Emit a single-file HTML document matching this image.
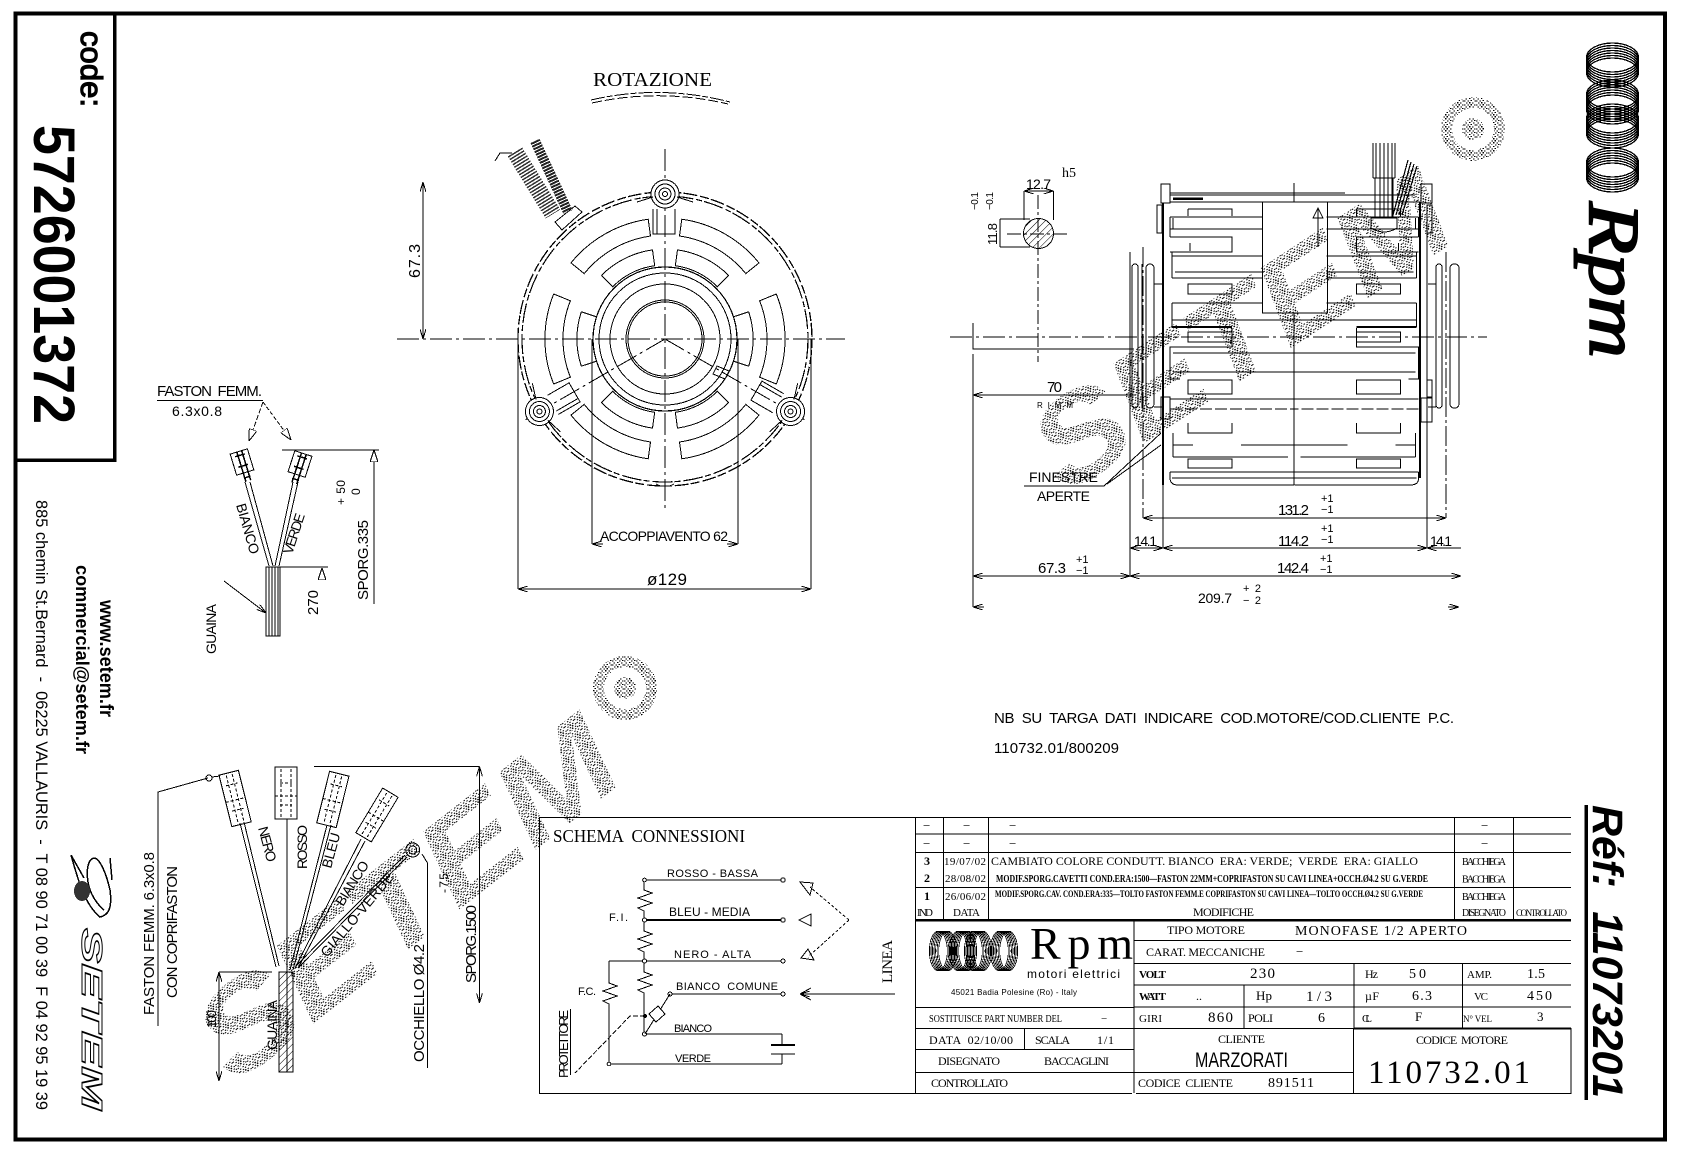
<!DOCTYPE html>
<html lang="it"><head><meta charset="utf-8"><title>Motore 110732.01</title>
<style>
html,body{margin:0;padding:0;background:#fff}
svg{display:block}
text{fill:#000;stroke:none;white-space:pre}
.s{font-family:"Liberation Sans",sans-serif}
.b{font-family:"Liberation Sans",sans-serif;font-weight:bold}
.m{font-family:"Liberation Serif",serif}
.c{font-family:"Liberation Mono",monospace}
</style></head><body>
<svg xmlns="http://www.w3.org/2000/svg" width="1683" height="1157" viewBox="0 0 1683 1157" fill="none" stroke="#000" stroke-width="1" shape-rendering="crispEdges">
<defs>
<marker id="a" viewBox="0 0 10 6" refX="10" refY="3" markerWidth="10" markerHeight="6" markerUnits="userSpaceOnUse" orient="auto-start-reverse"><path d="M0 0L10 3L0 6" fill="none" stroke="#000"/></marker>
<marker id="t" viewBox="0 0 12 8" refX="12" refY="4" markerWidth="12" markerHeight="8" markerUnits="userSpaceOnUse" orient="auto-start-reverse"><path d="M0 0L12 4L0 8Z" fill="#fff" stroke="#000"/></marker>
<pattern id="d" width="12" height="12" patternUnits="userSpaceOnUse"><path stroke="#000" stroke-width="1.3" d="M0 1h1.3M3 0h1.3M7 1h1.3M10 .5h1.3M1.500 3h1.3M5 2.500h1.3M9 3h1.3M0 5h1.3M3.500 5h1.3M6.500 4.500h1.3M10.500 5h1.3M2 7h1.3M5 6.800h1.3M8 7h1.3M0 9h1.3M3.500 9h1.3M6.500 8.800h1.3M10 9h1.3M1.500 11h1.3M5 10.800h1.3M8.500 11h1.3"/></pattern>
<pattern id="h" width="5" height="5" patternUnits="userSpaceOnUse" patternTransform="rotate(45)"><path d="M0 0V5" stroke="#000" stroke-width="1.4"/></pattern>
<g id="c" stroke-width="1.3"><ellipse rx="26" ry="14.5" cy="-7.500"/><ellipse rx="26" ry="14.5" cy="-5"/><ellipse rx="26" ry="14.5" cy="-2.500"/><ellipse rx="26" ry="14.5" cy="0"/><ellipse rx="26" ry="14.5" cy="2.500"/><ellipse rx="26" ry="14.5" cy="5"/><ellipse rx="26" ry="14.5" cy="7.500"/></g>
<path id="o1" d="M16.800-119.800A121 121 0 0 1 94-76.100L80.800-65.400A104 104 0 0 0 14.500-103Z"/>
<path id="o2" d="M12.500-89.100A90 90 0 0 1 63.600-63.600L52.300-52.300A74 74 0 0 0 10.300-73.300Z"/>
<path id="o3" d="M111.300-45A120 120 0 0 1 111.300 45L94.600 38.200A102 102 0 0 0 94.600-38.200Z"/>
<path id="o4" d="M83.700-27.200A88 88 0 0 1 83.700 27.200L68.500 22.200A72 72 0 0 0 68.500-22.200Z"/>
<g id="lug"><circle cy="-145" r="14" fill="#fff"/><circle cy="-145" r="10"/><circle cy="-145" r="6"/><circle cy="-145" r="2.500"/><path d="M-12-130V-105H10V-130M-8-130V-105M-12-142L-28-137M12-142L28-137"/></g>
<g id="half">
<path d="M1170 217H1262M1170 229H1262M1170 217V237M1173 218V229M1170 237H1232V252H1170M1188 209H1232V216M1188 209V216M1190 243V251M1172 256H1262M1175 272H1262M1172 278H1262M1172 252V278"/>
<rect x="1188" y="284" width="44" height="10"/>
<path d="M1172 303H1262M1172 320H1294M1172 303V327"/>
<path d="M1172 327H1232" stroke-width="2"/>
<rect x="1188" y="332" width="44" height="10"/>
<path d="M1232 328V347H1170V379H1180M1173 353H1294M1173 372H1294M1170 399H1294"/>
<rect x="1188" y="380" width="44" height="14"/>
<path d="M1170 409H1294" stroke-dasharray="12 3"/>
<path d="M1188 423V433H1232V423M1173 433V457M1173 445H1193M1241 445H1294M1173 457H1288"/>
<rect x="1188" y="459" width="44" height="9"/>
<path d="M1170 472H1294M1172 478H1294M1170 472V478Q1170 485 1178 485H1294"/>
</g>
</defs>

<!-- watermarks -->
<g stroke="none">
<text class="b" font-size="122" font-style="italic" transform="translate(235,1085) rotate(-38)" textLength="500" lengthAdjust="spacingAndGlyphs" style="fill:url(#d)">SETEM</text>
<text class="b" font-size="122" font-style="italic" transform="translate(1065,495) rotate(-33)" textLength="473" lengthAdjust="spacingAndGlyphs" style="fill:url(#d)">SETEM</text>
<path fill="url(#d)" fill-rule="evenodd" d="M1473 97a32 32 0 1 0 .1 0ZM1473 108a21 21 0 1 1-.1 0ZM625 656a32 32 0 1 0 .1 0ZM625 667a21 21 0 1 1-.1 0ZM1473 118a11 11 0 1 0 .1 0ZM625 677a11 11 0 1 0 .1 0Z"/>
</g>

<!-- frame -->
<rect x="15.500" y="13.500" width="1649.500" height="1126" stroke-width="4"/>
<path d="M114.500 14V460H16" stroke-width="3.500"/>

<!-- left strip text -->
<text class="s" font-size="31" transform="translate(81,31) rotate(90)" textLength="76" stroke-width="1.200" style="stroke:#000">code:</text>
<text class="b" font-size="58" transform="translate(34,125) rotate(90)" textLength="299" lengthAdjust="spacingAndGlyphs">5726001372</text>
<text class="b" font-size="19" transform="translate(100,600) rotate(90)" textLength="117" lengthAdjust="spacingAndGlyphs">www.setem.fr</text>
<text class="b" font-size="18" transform="translate(76,565) rotate(90)" textLength="189" lengthAdjust="spacingAndGlyphs">commercial@setem.fr</text>
<text class="s" font-size="17" transform="translate(36,500) rotate(90)" textLength="610" lengthAdjust="spacingAndGlyphs">885 chemin St.Bernard  -  06225 VALLAURIS  -  T 08 90 71 00 39  F 04 92 95 19 39</text>
<g>
<path d="M71 855C78 880 85 905 100 917C110 915 112 905 110 890C106 872 100 860 95 858C88 858 86 870 88 882C90 895 98 905 104 910" stroke-width="1.5"/>
<ellipse cx="82" cy="891" rx="8" ry="10" fill="#333" stroke="none"/>
<path d="M71 855L84 878M110 858L112 880" stroke-width="1.5"/>
</g>
<text class="b" font-size="29" font-style="italic" transform="translate(82,928) rotate(90)" textLength="182" lengthAdjust="spacingAndGlyphs" style="fill:none;stroke:#000;stroke-width:1">SETEM</text>

<!-- right strip -->
<use href="#c" x="1612.500" y="65"/><use href="#c" x="1612.500" y="102"/><use href="#c" x="1612.500" y="126"/><use href="#c" x="1612.500" y="170"/>
<text class="m" font-size="72" font-style="italic" transform="translate(1590,202) rotate(90)" textLength="156" lengthAdjust="spacingAndGlyphs" style="stroke:#000;stroke-width:2">Rpm</text>
<path d="M1586 805V1100" stroke-width="3.500"/>
<text class="b" font-size="43" font-style="italic" transform="translate(1593,805) rotate(90)" textLength="293" lengthAdjust="spacing">Réf:  11073201</text>

<!-- top-left faston -->
<g>
<text class="s" font-size="15" x="157" y="396" textLength="105">FASTON  FEMM.</text>
<text class="s" font-size="14" x="172" y="416" textLength="50">6.3x0.8</text>
<path d="M157 400.500H263"/>
<path d="M263 402L249 441" stroke-dasharray="5 2" marker-end="url(#t)"/>
<path d="M263 402L291 440" stroke-dasharray="4 2" marker-end="url(#t)"/>
<g transform="translate(242,462) rotate(-17)"><rect x="-9" y="-11" width="18" height="22"/><path d="M-2-11V20M3-11V20M-5-7H5M-5 4H5M-3 16H4" stroke-width="1.500"/></g>
<g transform="translate(300,464) rotate(18)"><rect x="-9" y="-11" width="18" height="22"/><path d="M-2-11V20M3-11V20M-5-7H5M-5 4H5M-3 16H4" stroke-width="1.500"/></g>
<path d="M245 482L269 566M250 482L273 566M293 482L275 566M298 482L279 566"/>
<rect x="266" y="567" width="14" height="69"/><path d="M269 567V636M272 567V636M275 567V636M278 567V636" stroke-width="1.300"/>
<text class="s" font-size="14" transform="translate(236,505) rotate(74)" textLength="52">BIANCO</text>
<text class="s" font-size="14" transform="translate(292,555) rotate(-72)" textLength="42">VERDE</text>
<path d="M282 450H379M374 450V604M280 567H328" />
<path d="M374 604V450" marker-end="url(#t)"/>
<path d="M322 568V578" marker-start="url(#t)"/>
<text class="s" font-size="15" transform="translate(368,600) rotate(-90)" textLength="80">SPORG.335</text>
<text class="s" font-size="12" transform="translate(345,505) rotate(-90)" textLength="25">+ 50</text>
<text class="s" font-size="12" transform="translate(360,495) rotate(-90)">0</text>
<text class="s" font-size="15" transform="translate(318,615) rotate(-90)" textLength="25">270</text>
<path d="M224 581L266 613" marker-end="url(#a)"/>
<text class="s" font-size="14" transform="translate(216,654) rotate(-90)" textLength="50">GUAINA</text>
</g>

<!-- front view -->
<g>
<text class="m" font-size="20" x="593" y="86" textLength="119" lengthAdjust="spacingAndGlyphs">ROTAZIONE</text>
<path d="M591 100Q660 84 730 102" stroke-dasharray="14 2 6 2"/><path d="M592 103Q660 88 728 104" stroke-dasharray="10 3"/>
<path d="M397 339H845M665 149V508" stroke-dasharray="22 4 3 4"/>
<path d="M665 339L525 420M665 339L805 420" stroke-dasharray="22 4 3 4"/>
<circle cx="665" cy="339" r="147" stroke-width="1.300" stroke-dasharray="9 2 14 3"/>
<circle cx="665" cy="339" r="143" stroke-width="1.200" stroke-dasharray="20 3 6 2"/>
<circle cx="665" cy="339" r="37"/><circle cx="665" cy="339" r="39"/><circle cx="665" cy="339" r="55"/><circle cx="665" cy="339" r="66"/><circle cx="665" cy="339" r="72" stroke-width="1.200"/>
<g transform="translate(665,339)">
<use href="#o1"/><use href="#o1" transform="scale(-1,1)"/><use href="#o1" transform="rotate(180)"/><use href="#o1" transform="rotate(180) scale(-1,1)"/>
<use href="#o2"/><use href="#o2" transform="scale(-1,1)"/><use href="#o2" transform="rotate(180)"/><use href="#o2" transform="rotate(180) scale(-1,1)"/>
<use href="#o3"/><use href="#o3" transform="scale(-1,1)"/><use href="#o4"/><use href="#o4" transform="scale(-1,1)"/>
<use href="#lug"/><use href="#lug" transform="rotate(120)"/><use href="#lug" transform="rotate(-120)"/>
<path d="M-9 145L-5 147H5L9 145"/>
<path d="M52 27L64 32L60 40L48 35Z"/>
</g>
<path d="M555 222L575 206L582 212L562 230Z" fill="#fff"/>
<path d="M535 141L568 212" stroke-width="10" stroke-dasharray="2 1" stroke="#222"/>
<path d="M515 152L553 214" stroke-width="17" stroke-dasharray="1.500 1.500" stroke="#333"/>
<path d="M495 161L500 153L512 153" />
<path d="M423 182V339" marker-start="url(#a)" marker-end="url(#a)"/>
<text class="s" font-size="16" transform="translate(420,278) rotate(-90)" textLength="34">67.3</text>
<path d="M592 339V544M738 339V544"/>
<path d="M592 544H603M727 544H738"/>
<path d="M603 544H592" marker-end="url(#a)"/><path d="M727 544H738" marker-end="url(#a)"/>
<text class="s" font-size="14" x="600" y="541" textLength="128">ACCOPPIAVENTO 62</text>
<path d="M518 339V589M811 339V589"/><path d="M518 589H811" marker-start="url(#a)" marker-end="url(#a)"/>
<text class="s" font-size="17" x="647" y="585" textLength="40">ø129</text>
</g>

<!-- shaft section -->
<g>
<text class="m" font-size="14" x="1062" y="177" textLength="14">h5</text>
<text class="s" font-size="14" x="1026" y="189" textLength="25">12.7</text>
<path d="M1024 191V220M1053.500 191V220M1000 219H1030M1000 247H1030M1000 219V247"/>
<path d="M1024 191H1053.500" marker-start="url(#a)" marker-end="url(#a)"/>
<circle cx="1038.500" cy="233.500" r="15" fill="url(#h)"/>
<path d="M1038 195V362M1007 234H1068" stroke-dasharray="14 3 3 3"/>
<text class="s" font-size="13" transform="translate(997,245) rotate(-90)" textLength="22">11.8</text>
<text class="s" font-size="10" transform="translate(978,210) rotate(-90)" textLength="18">−0.1</text>
<text class="s" font-size="10" transform="translate(993,210) rotate(-90)" textLength="18">−0.1</text>
</g>

<!-- side view -->
<g>
<path d="M950 337H1487" stroke-dasharray="22 4 3 4"/>
<use href="#half"/><use href="#half" transform="matrix(-1 0 0 1 2588.600 0)"/>
<path d="M1170 193H1345M1170 195H1415M1170 202H1262.500M1327.500 202H1420M1173 198H1203" />
<path d="M1173 199H1203" stroke-width="2"/>
<rect x="1262.500" y="202" width="65" height="111"/>
<path d="M1294 183V202M1294 313V485"/>
<path d="M1318 247V208"/><path d="M1318 208L1313 218H1323Z"/>
<path d="M1163 203V485M1420 202V478" stroke-width="2.200"/>
<path d="M1163 485V548M1427 205V548M1130 252V577" />
<path d="M1143 247V518M1446 252V518" stroke-dasharray="20 3 3 3"/>
<rect x="1161" y="184" width="9" height="19"/><rect x="1161" y="397" width="9" height="22"/>
<rect x="1157" y="205" width="5" height="28"/>
<rect x="1421" y="184" width="11" height="19"/><rect x="1421" y="398" width="11" height="24"/>
<rect x="1427" y="205" width="5" height="28"/><rect x="1427" y="380" width="5" height="17"/>
<rect x="1132" y="264" width="6" height="144" rx="3"/><rect x="1146" y="264" width="8" height="144" rx="4"/>
<rect x="1436" y="264" width="6" height="144" rx="3"/><rect x="1450" y="264" width="9" height="144" rx="4"/>
<path d="M1154 284H1163M1154 407H1163M1428 284H1436M1428 407H1436M1142 264V408"/>
<path d="M1373 143V178M1376 143V178M1380 143V218M1384 143V218M1388 143V218M1392 143V218M1395 143V178M1373 178H1395M1375 178V218M1393 178V218" stroke-width="1.200"/>
<path d="M1371 218V228Q1384 236 1397 228V218Z"/>
<path d="M1393 215L1408 160M1396 215L1411 162M1399 215L1414 164M1402 215L1417 166" stroke-width="1.200"/>
<path d="M973 323V349H1134M973 354V607"/>
<path d="M973 395H1136" marker-start="url(#a)"/>
<text class="s" font-size="15" x="1047" y="392" textLength="15">70</text>
<text class="s" font-size="8" x="1037" y="408" textLength="36">RIMM</text>
<text class="s" font-size="14" x="1029" y="482" textLength="69">FINESTRE</text>
<text class="s" font-size="14" x="1037" y="501" textLength="53">APERTE</text>
<path d="M1024 486H1104L1161 433M1107 484L1161 445" />
<path d="M1143 518H1446" marker-start="url(#a)" marker-end="url(#a)"/>
<text class="s" font-size="15" x="1278" y="515" textLength="31">131.2</text>
<text class="s" font-size="11" x="1321" y="502">+1</text><text class="s" font-size="11" x="1321" y="513">−1</text>
<path d="M1130 548H1163" marker-start="url(#a)" marker-end="url(#a)"/><path d="M1163 548H1427" marker-start="url(#a)" marker-end="url(#a)"/><path d="M1427 548H1461" marker-start="url(#a)"/>
<text class="s" font-size="15" x="1278" y="546" textLength="31">114.2</text>
<text class="s" font-size="11" x="1321" y="532">+1</text><text class="s" font-size="11" x="1321" y="543">−1</text>
<text class="s" font-size="14" x="1134" y="546" textLength="23">14.1</text>
<text class="s" font-size="14" x="1430" y="546" textLength="22">14.1</text>
<path d="M973 576H1130" marker-start="url(#a)" marker-end="url(#a)"/><path d="M1130 576H1461" marker-start="url(#a)" marker-end="url(#a)"/>
<text class="s" font-size="15" x="1038" y="573" textLength="28">67.3</text>
<text class="s" font-size="11" x="1076" y="563">+1</text><text class="s" font-size="11" x="1076" y="574">−1</text>
<text class="s" font-size="15" x="1277" y="573" textLength="32">142.4</text>
<text class="s" font-size="11" x="1320" y="562">+1</text><text class="s" font-size="11" x="1320" y="573">−1</text>
<text class="s" font-size="14" x="1198" y="603" textLength="34">209.7</text>
<text class="s" font-size="11" x="1243" y="592" textLength="18">+ 2</text><text class="s" font-size="11" x="1243" y="604" textLength="18">− 2</text>
<path d="M984 607H973" marker-end="url(#a)"/><path d="M1448 607H1459" marker-end="url(#a)"/>
<text class="s" font-size="15" x="994" y="723" textLength="460">NB  SU  TARGA  DATI  INDICARE  COD.MOTORE/COD.CLIENTE  P.C.</text>
<text class="s" font-size="15" x="994" y="753" textLength="125">110732.01/800209</text>
</g>

<!-- bottom-left wiring -->
<g>
<rect x="279" y="972" width="14" height="100" fill="url(#h)"/>
<path d="M287 972V1072"/>
<path d="M219 972H272"/><path d="M219 972V1081" marker-start="url(#a)" marker-end="url(#a)"/>
<text class="s" font-size="13" transform="translate(216,1028) rotate(-90)" textLength="18">100</text>
<text class="s" font-size="14" transform="translate(277,1050) rotate(-90)" textLength="50">GUAINA</text>
<text class="s" font-size="15" transform="translate(154,1015) rotate(-90)" textLength="163">FASTON FEMM. 6.3x0.8</text>
<path d="M158 1026V792L208 778" /><circle cx="209" cy="778" r="3"/><path d="M212 777L220 776"/>
<text class="s" font-size="15" transform="translate(177,998) rotate(-90)" textLength="132">CON COPRIFASTON</text>
<g transform="translate(235,798) rotate(-14)"><rect x="-10" y="-26" width="20" height="53"/><path d="M-10 2H10M-3-24V25M3-24V25M-6-14H6M-6 12H6" stroke-dasharray="3 2"/></g>
<path d="M240 823L276 967M244 822L279 966"/>
<g transform="translate(286,793)"><rect x="-11" y="-26" width="22" height="52"/><path d="M-11 3H11M-5-24V24M5-24V24M-6-10H6M-6 12H6" stroke-dasharray="3 2"/></g>
<path d="M287 819V972"/>
<g transform="translate(333,799) rotate(14)"><rect x="-10" y="-26" width="20" height="53"/><path d="M-10 2H10M-3-24V25M3-24V25M-6-14H6M-6 12H6" stroke-dasharray="3 2"/></g>
<path d="M327 825L290 970M331 825L293 970"/>
<g transform="translate(377,815) rotate(31)"><rect x="-9" y="-26" width="18" height="52"/><path d="M-9 2H9M-3-24V25M3-24V25M-6-14H6M-6 12H6" stroke-dasharray="3 2"/></g>
<path d="M361 839L295 968M365 841L298 968"/>
<circle cx="412.700" cy="850" r="7"/><circle cx="412.700" cy="850" r="4"/>
<path d="M407 857L298 968M405 855L296 966"/>
<text class="s" font-size="14" transform="translate(258,828) rotate(75)" textLength="36">NERO</text>
<text class="s" font-size="14" transform="translate(307,869) rotate(-90)" textLength="44">ROSSO</text>
<text class="s" font-size="14" transform="translate(331,869) rotate(-75)" textLength="36">BLEU</text>
<text class="s" font-size="14" transform="translate(343,907) rotate(-58)" textLength="50">BIANCO</text>
<text class="s" font-size="14" transform="translate(327,958) rotate(-50)" textLength="105">GIALLO-VERDE</text>
<path d="M314 766.500H479.500"/><path d="M479.500 766.500V1003" marker-start="url(#a)" marker-end="url(#a)"/>
<text class="s" font-size="15" transform="translate(476,983) rotate(-90)" textLength="78">SPORG.1500</text>
<text class="s" font-size="12" transform="translate(448,893) rotate(-90)" textLength="20">-75</text>
<text class="s" font-size="15" transform="translate(424,1062) rotate(-90)" textLength="118">OCCHIELLO Ø4.2</text>
<path d="M427.500 1068V863L422 854"/>
</g>

<!-- schema -->
<g>
<rect x="539.500" y="817.500" width="376" height="276"/>
<text class="m" font-size="18" x="553" y="842" textLength="192" lengthAdjust="spacingAndGlyphs">SCHEMA  CONNESSIONI</text>
<path d="M644 880H783M609 961H783M670 994H783M644 1034H782M609 1064H782"/>
<path d="M644 920H783" stroke-width="2"/>
<path d="M644 880V890L652 893L638 898L652 903L638 908L644 911V931L652 934L638 939L652 944L638 949L644 952V972L652 975L638 980L652 985L638 990L644 993V1034"/>
<path d="M609 961V983L617 986L603 991L617 996L603 1001L609 1004V1064"/>
<g fill="#fff"><circle cx="644.500" cy="880" r="1.800"/><circle cx="644.500" cy="920" r="2"/><circle cx="644.500" cy="961" r="2"/><circle cx="644.500" cy="1034" r="2"/><circle cx="783" cy="880" r="2.200"/><circle cx="783" cy="920" r="2.200"/><circle cx="783" cy="961" r="2"/><circle cx="783" cy="994" r="2"/><circle cx="670" cy="994" r="2"/><circle cx="609" cy="1064" r="1.800"/></g>
<path d="M645 1034L670 994"/><path d="M649 1014L658 1006L665 1014L656 1022Z" fill="#fff"/>
<path d="M645 1016H630L575 1073" stroke-dasharray="5 2"/><circle cx="645" cy="1016" r="1.500" fill="#000"/>
<path d="M570.500 1009V1075"/>
<text class="s" font-size="13" transform="translate(568,1078) rotate(-90)" textLength="68">PROTETTORE</text>
<text class="s" font-size="11" x="609" y="921" textLength="19">F.I.</text>
<text class="s" font-size="11" x="578" y="995" textLength="18">F.C.</text>
<text class="s" font-size="11" x="667" y="877" textLength="91">ROSSO - BASSA</text>
<text class="s" font-size="12" x="669" y="916" textLength="81">BLEU - MEDIA</text>
<text class="s" font-size="11" x="674" y="958" textLength="77">NERO - ALTA</text>
<text class="s" font-size="11" x="676" y="990" textLength="102">BIANCO  COMUNE</text>
<text class="s" font-size="11" x="674" y="1032" textLength="38">BIANCO</text>
<text class="s" font-size="11" x="675" y="1062" textLength="36">VERDE</text>
<path d="M782 1034V1045M782 1054V1064M771 1054H795"/><path d="M771 1045H795" stroke-width="2"/>
<text class="m" font-size="15" transform="translate(892,983) rotate(-90)" textLength="43">LINEA</text>
<path d="M895 994H800" marker-end="url(#a)"/><path d="M800 994L811 988M800 994L811 1000"/>
<path d="M800 882L810 895L813 883Z"/>
<path d="M799 920L811 914V926Z"/>
<path d="M801 958L814 960L808 949Z"/>
<path d="M849 920L810 887M849 920L808 957" stroke-dasharray="3 2"/>
</g>

<!-- title block -->
<g>
<path d="M915.500 817.500H1571M915.500 834H1571M915.500 852.500H1571M915.500 887.500H1571"/>
<path d="M915.500 920H1571" stroke-width="2.500"/>
<path d="M915.500 817V1093.500M943.500 817V920M988.500 817V920M1454.500 817V920M1513.500 817V920"/>
<path d="M915.500 1007.500H1134M915.500 1028.500H1134M915.500 1049.500H1134M915.500 1072.500H1134M915.500 1093.500H1132M1024.500 1028.500V1049.500"/>
<path d="M1134 920V1093M1134 940.500H1571M1134 963.500H1571M1134 985H1354M1134 1007H1571M1134 1028.500H1354M1134 1072.500H1353M1244 985V1028.500M1354 963.500V1028.500M1462.500 963.500V1028.500M1354 985H1571"/>
<path d="M1353.500 1028.500H1571" stroke-width="1.800"/><path d="M1353.500 1028V1093.500H1571V1028"/><path d="M1136 1093.500H1353"/>
<g class="m" font-size="12">
<text class="m" font-size="13" x="923" y="830">−</text><text class="m" font-size="13" x="963" y="830">−</text><text class="m" font-size="13" x="1009" y="830">−</text><text class="m" font-size="13" x="1481" y="830">−</text>
<text class="m" font-size="13" x="923" y="848">−</text><text class="m" font-size="13" x="963" y="848">−</text><text class="m" font-size="13" x="1009" y="848">−</text><text class="m" font-size="13" x="1481" y="848">−</text>
<text class="m" font-size="12" x="924" y="865" style="font-weight:bold">3</text><text class="m" font-size="11" x="944" y="865" textLength="42">19/07/02</text>
<text class="m" font-size="12" x="991" y="865" textLength="427" lengthAdjust="spacingAndGlyphs">CAMBIATO COLORE CONDUTT. BIANCO  ERA: VERDE;  VERDE  ERA: GIALLO</text>
<text class="m" font-size="12" x="924" y="882" style="font-weight:bold">2</text><text class="m" font-size="11" x="945" y="882" textLength="41">28/08/02</text>
<text class="m" font-size="10" x="996" y="882" textLength="432" lengthAdjust="spacingAndGlyphs" style="font-weight:bold">MODIF.SPORG.CAVETTI COND.ERA:1500—FASTON 22MM+COPRIFASTON SU CAVI LINEA+OCCH.Ø4.2 SU G.VERDE</text>
<text class="m" font-size="12" x="924" y="900" style="font-weight:bold">1</text><text class="m" font-size="11" x="945" y="900" textLength="41">26/06/02</text>
<text class="m" font-size="9" x="995" y="897" textLength="428" lengthAdjust="spacingAndGlyphs" style="font-weight:bold">MODIF.SPORG.CAV. COND.ERA:335—TOLTO FASTON FEMM.E COPRIFASTON SU CAVI LINEA—TOLTO OCCH.Ø4.2 SU G.VERDE</text>
<text class="m" font-size="11" x="917" y="916" textLength="16">IND</text>
<text class="m" font-size="11" x="953" y="916" textLength="27">DATA</text>
<text class="m" font-size="12" x="1193" y="916" textLength="61">MODIFICHE</text>
<text class="m" font-size="10" x="1462" y="865" textLength="44">BACCHIEGA</text>
<text class="m" font-size="10" x="1462" y="882.500" textLength="44">BACCHIEGA</text>
<text class="m" font-size="10" x="1462" y="900" textLength="44">BACCHIEGA</text>
<text class="m" font-size="10" x="1462" y="916" textLength="44">DISEGNATO</text>
<text class="m" font-size="9" x="1516" y="916" textLength="51">CONTROLLATO</text>
</g>
<use href="#c" transform="translate(943,951) rotate(90) scale(.76,.62)"/><use href="#c" transform="translate(963,951) rotate(90) scale(.76,.62)"/><use href="#c" transform="translate(978,951) rotate(90) scale(.76,.62)"/><use href="#c" transform="translate(1004,951) rotate(90) scale(.76,.62)"/>
<text class="m" font-size="46" x="1030" y="959" textLength="103" lengthAdjust="spacing">Rpm</text>
<text class="s" font-size="12" x="1027" y="978" textLength="93">motori elettrici</text>
<text class="s" font-size="8" x="951" y="995" textLength="126">45021 Badia Polesine (Ro) - Italy</text>
<text class="m" font-size="11" x="929" y="1022" textLength="133" lengthAdjust="spacingAndGlyphs">SOSTITUISCE PART NUMBER DEL</text><text class="m" font-size="11" x="1101" y="1022">−</text>
<text class="m" font-size="12" x="929" y="1044" textLength="84">DATA  02/10/00</text>
<text class="m" font-size="12" x="1035" y="1044" textLength="35">SCALA</text><text class="m" font-size="12" x="1097" y="1044" textLength="17">1/1</text>
<text class="m" font-size="12" x="938" y="1065" textLength="62">DISEGNATO</text><text class="m" font-size="12" x="1044" y="1065" textLength="65">BACCAGLINI</text>
<text class="m" font-size="12" x="931" y="1087" textLength="77">CONTROLLATO</text>
<text class="m" font-size="12" x="1167" y="934" textLength="78">TIPO MOTORE</text>
<text class="m" font-size="14" x="1295" y="935" textLength="172">MONOFASE 1/2 APERTO</text>
<text class="m" font-size="12" x="1146" y="956" textLength="119">CARAT. MECCANICHE</text><text class="m" font-size="13" x="1296" y="956">−</text>
<text class="m" font-size="11" x="1139" y="978" textLength="27" style="font-weight:bold">VOLT</text><text class="m" font-size="15" x="1250" y="978" textLength="25">230</text>
<text class="m" font-size="11" x="1139" y="1000" textLength="27" style="font-weight:bold">WATT</text><text class="m" font-size="12" x="1196" y="1000">..</text>
<text class="m" font-size="13" x="1256" y="1000" textLength="16">Hp</text><text class="m" font-size="15" x="1306" y="1001" textLength="26">1/3</text>
<text class="m" font-size="11" x="1139" y="1022" textLength="23">GIRI</text><text class="m" font-size="15" x="1208" y="1022" textLength="25">860</text>
<text class="m" font-size="12" x="1248" y="1022" textLength="25">POLI</text><text class="m" font-size="14" x="1318" y="1022">6</text>
<text class="m" font-size="12" x="1365" y="978" textLength="13">Hz</text><text class="m" font-size="14" x="1409" y="978" textLength="17">50</text>
<text class="m" font-size="11" x="1467" y="978" textLength="25">AMP.</text><text class="m" font-size="14" x="1527" y="978" textLength="18">1.5</text>
<text class="m" font-size="12" x="1365" y="1000" textLength="14">µF</text><text class="m" font-size="14" x="1412" y="1000" textLength="20">6.3</text>
<text class="m" font-size="11" x="1474" y="1000" textLength="14">VC</text><text class="m" font-size="14" x="1527" y="1000" textLength="25">450</text>
<text class="m" font-size="11" x="1362" y="1022" textLength="10">CL</text><text class="m" font-size="13" x="1415" y="1021">F</text>
<text class="m" font-size="9" x="1463" y="1022" textLength="29">N° VEL</text><text class="m" font-size="13" x="1537" y="1021">3</text>
<text class="m" font-size="12" x="1218" y="1043" textLength="47">CLIENTE</text>
<text class="s" font-size="21" x="1195" y="1067" textLength="93" lengthAdjust="spacingAndGlyphs">MARZORATI</text>
<text class="m" font-size="12" x="1138" y="1087" textLength="95">CODICE  CLIENTE</text><text class="m" font-size="14" x="1268" y="1087" textLength="46">891511</text>
<text class="m" font-size="12" x="1416" y="1044" textLength="92">CODICE  MOTORE</text>
<text class="m" font-size="33" x="1368" y="1083" textLength="162" lengthAdjust="spacing">110732.01</text>
</g>
</svg>
</body></html>
